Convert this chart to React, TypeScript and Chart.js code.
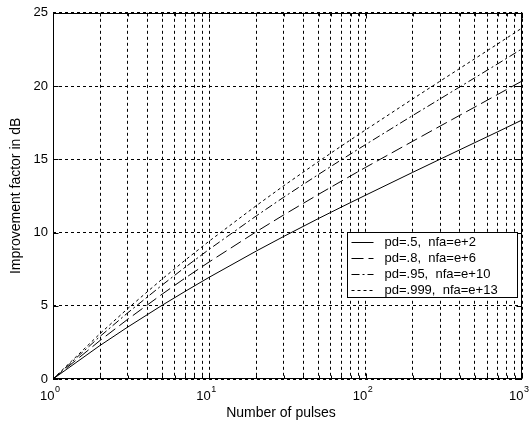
import { useEffect, useRef } from 'react';
import { Chart, registerables } from 'chart.js';

Chart.register(...registerables);

// Number of pulses (x) and improvement factor in dB (y) for each curve
const pulses = [1, 2, 3, 5, 7, 10, 20, 30, 50, 70, 100, 200, 300, 500, 700, 1000];
const pd05 = [0, 2.29, 3.54, 5.04, 5.98, 6.95, 8.74, 9.74, 10.96, 11.74, 12.55, 14.11, 15.01, 16.14, 16.88, 17.68];
const pd08 = [0, 2.63, 4.07, 5.8, 6.89, 8.0, 10.06, 11.21, 12.61, 13.51, 14.45, 16.23, 17.27, 18.57, 19.43, 20.34];
const pd095 = [0, 2.91, 4.51, 6.42, 7.63, 8.86, 11.14, 12.42, 13.97, 14.97, 16.01, 17.99, 19.13, 20.57, 21.52, 22.54];
const pd0999 = [0, 3.1, 4.8, 6.83, 8.11, 9.42, 11.84, 13.2, 14.85, 15.91, 17.01, 19.12, 20.34, 21.87, 22.88, 23.96];

const seriesLabels = ['pd=.5,  nfa=e+2', 'pd=.8,  nfa=e+6', 'pd=.95,  nfa=e+10', 'pd=.999,  nfa=e+13'];

const xGridValues = [
  1, 2, 3, 4, 5, 6, 7, 8, 9,
  10, 20, 30, 40, 50, 60, 70, 80, 90,
  100, 200, 300, 400, 500, 600, 700, 800, 900,
  1000,
];
const xMajorValues = [1, 10, 100, 1000];
const yTickValues = [0, 5, 10, 15, 20, 25];

const xTitle = 'Number of pulses';
const yTitle = 'Improvement factor in dB';

const FONT = '"Liberation Sans", Arial, Helvetica, sans-serif';

const decor = {
  id: 'decor',
  beforeDraw(chart: any) {
    const ctx = chart.ctx;
    ctx.save();
    ctx.fillStyle = '#fff';
    ctx.fillRect(0, 0, chart.width, chart.height);
    ctx.restore();
  },
  afterDatasetsDraw(chart: any) {
    const { ctx, chartArea: a, scales } = chart;
    const xs = scales.x;
    const ys = scales.y;
    const L = Math.round(a.left) + 0.5;
    const R = Math.round(a.right) - 0.5;
    const T = Math.round(a.top) + 0.5;
    const B = Math.round(a.bottom) - 0.5;
    ctx.save();
    ctx.setLineDash([]);
    ctx.strokeStyle = '#000';
    ctx.lineWidth = 1;
    ctx.strokeRect(L, T, R - L, B - T);

    // inward tick marks
    ctx.beginPath();
    xGridValues.forEach((v) => {
      const x = Math.round(xs.getPixelForValue(v)) + 0.5;
      const len = xMajorValues.includes(v) ? 5 : 3;
      ctx.moveTo(x, B);
      ctx.lineTo(x, B - len);
      ctx.moveTo(x, T);
      ctx.lineTo(x, T + len);
    });
    yTickValues.forEach((v) => {
      const y = Math.round(ys.getPixelForValue(v)) + 0.5;
      ctx.moveTo(L, y);
      ctx.lineTo(L + 5, y);
      ctx.moveTo(R, y);
      ctx.lineTo(R - 5, y);
    });
    ctx.stroke();

    // x tick labels: 10 with superscript exponent
    ctx.fillStyle = '#000';
    xMajorValues.forEach((v) => {
      const x = xs.getPixelForValue(v);
      ctx.font = `13px ${FONT}`;
      ctx.textAlign = 'right';
      ctx.textBaseline = 'alphabetic';
      ctx.fillText('10', x + 1.5, 400);
      ctx.font = `9px ${FONT}`;
      ctx.textAlign = 'left';
      ctx.fillText(String(Math.round(Math.log10(v))), x + 2, 392);
    });

    // axis titles
    ctx.font = `14px ${FONT}`;
    ctx.textAlign = 'center';
    ctx.textBaseline = 'alphabetic';
    ctx.fillText(xTitle, 281, 417);
    ctx.save();
    ctx.translate(16, (a.top + a.bottom) / 2);
    ctx.rotate(-Math.PI / 2);
    ctx.textBaseline = 'middle';
    ctx.fillText(yTitle, 0, 0);
    ctx.restore();

    // legend box
    const lw = 170;
    const lh = 65;
    const lx = Math.round(a.right) - 5 - lw + 0.5;
    const ly = 232.5;
    ctx.fillStyle = '#fff';
    ctx.fillRect(lx, ly, lw, lh);
    ctx.strokeRect(lx, ly, lw, lh);
    chart.data.datasets.forEach((ds: any, i: number) => {
      const cy = Math.round(ly + 9 + i * 16.3) + 0.5;
      ctx.save();
      ctx.setLineDash(ds.borderDash || []);
      ctx.beginPath();
      ctx.moveTo(lx + 4, cy);
      ctx.lineTo(lx + 26, cy);
      ctx.stroke();
      ctx.restore();
      ctx.fillStyle = '#000';
      ctx.font = `13px ${FONT}`;
      ctx.textAlign = 'left';
      ctx.textBaseline = 'middle';
      ctx.fillText(ds.label, lx + 37, cy);
    });
    ctx.restore();
  },
};

export default function App() {
  const canvasRef = useRef<HTMLCanvasElement | null>(null);

  useEffect(() => {
    const canvas = canvasRef.current;
    if (!canvas) return;
    const mk = (arr: number[]) => pulses.map((x, i) => ({ x, y: arr[i] }));
    const dashes = [[], [12, 5], [8, 3, 2, 3], [3, 3]];
    const series = [pd05, pd08, pd095, pd0999];
    const chart = new Chart(canvas, {
      type: 'line',
      data: {
        datasets: series.map((s, i) => ({
          label: seriesLabels[i],
          data: mk(s),
          borderColor: '#000',
          borderWidth: 1,
          borderDash: dashes[i],
          pointRadius: 0,
          fill: false,
          tension: 0,
        })),
      },
      options: {
        animation: false,
        responsive: false,
        maintainAspectRatio: false,
        layout: { padding: { top: 9, right: 9, left: 0, bottom: 0 } },
        plugins: { legend: { display: false }, tooltip: { enabled: false } },
        scales: {
          x: {
            type: 'logarithmic',
            min: 1,
            max: 1000,
            afterBuildTicks: (s: any) => {
              s.ticks = xGridValues.map((v) => ({ value: v }));
            },
            afterFit: (s: any) => {
              s.height = 46;
            },
            ticks: { display: false },
            grid: { color: '#000', lineWidth: 1, drawTicks: false },
            border: { display: false, dash: [3, 3] },
          },
          y: {
            type: 'linear',
            min: 0,
            max: 25,
            afterBuildTicks: (s: any) => {
              s.ticks = yTickValues.map((v) => ({ value: v }));
            },
            afterFit: (s: any) => {
              s.width = 53;
            },
            ticks: {
              color: '#000',
              font: { family: FONT, size: 13 },
              padding: 5,
              autoSkip: false,
            },
            grid: { color: '#000', lineWidth: 1, drawTicks: false },
            border: { display: false, dash: [3, 3] },
          },
        },
      } as any,
      plugins: [decor],
    });
    return () => chart.destroy();
  }, []);

  return (
    <div style={{ position: 'fixed', left: 0, top: 0, width: 531, height: 425, background: '#fff' }}>
      <canvas ref={canvasRef} width={531} height={425} style={{ display: 'block' }} />
    </div>
  );
}
